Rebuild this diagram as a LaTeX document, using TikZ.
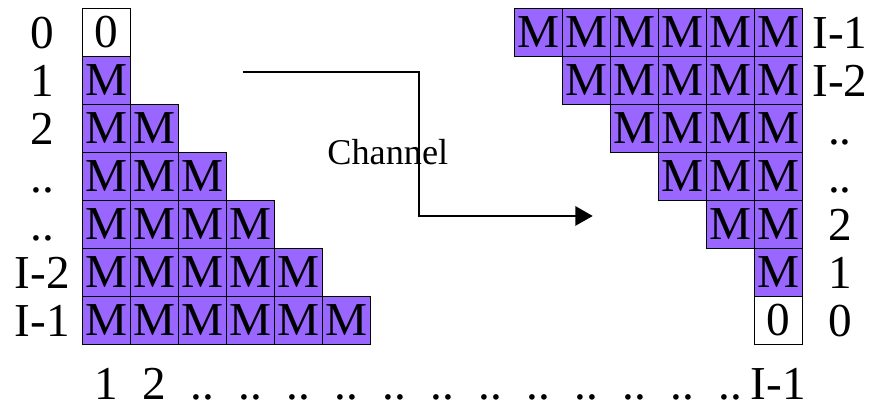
\documentclass[tikz,border=0pt]{standalone}
\usepackage{fontspec}
\setmainfont{Liberation Serif}
\usetikzlibrary{arrows.meta}

\definecolor{cellpurple}{RGB}{153,102,255}

\begin{document}
\begin{tikzpicture}[
    cell/.style={rectangle, draw, line width=0.6pt, fill=cellpurple, minimum size=1cm, inner sep=0pt, font=\fontsize{28}{34}\selectfont},
    zerocell/.style={cell, fill=white},
    lbl/.style={anchor=base, inner sep=0pt, font=\fontsize{28}{34}\selectfont}]
    \useasboundingbox (-2.22,0.67) rectangle (15.97,-7.79);

    % Left triangle of cells
    \node[zerocell] (l-0-1) at (0,0) {0};
    \foreach \r in {1,...,6}
        \foreach \c in {1,...,\r}
            \node[cell] (l-\r-\c) at (\c-1,-\r) {M};

    % Right triangle of cells
    \foreach \r in {0,...,5}
        \foreach \c in {\r,...,5}
            \node[cell] (r-\r-\c) at (9+\c,-\r) {M};
    \node[zerocell] (r-6-5) at (14,-6) {0};

    % Row labels
    \foreach \t [count=\i from 0] in {0,1,2,{..},{..},I-2,I-1}
        \node[lbl] (ll-\i) at (-1.34,-\i-0.35) {\t};
    \foreach \t [count=\i from 0] in {I-1,I-2,{..},{..},2,1,0}
        \node[lbl] (rl-\i) at (15.28,-\i-0.35) {\t};

    % Column labels
    \foreach \t [count=\i from 0] in {1,2,{..},{..},{..},{..},{..},{..},{..},{..},{..},{..},{..},{..},I-1}
        \node[lbl] (bl-\i) at (\i,-7.66) {\t};

    % Channel
    \node[font=\fontsize{21.5}{26}\selectfont, inner sep=0pt] (chan) at (5.86,-2.5) {Channel};
    \coordinate (tx) at (2.84,-0.83);
    \coordinate (bend) at (6.51,-0.83);
    \coordinate (rx) at (10.13,-3.83);
    \draw[line width=1.1pt, -{Triangle[length=3.6mm, width=4mm]}] (tx) -- (bend) |- (rx);
\end{tikzpicture}
\end{document}
